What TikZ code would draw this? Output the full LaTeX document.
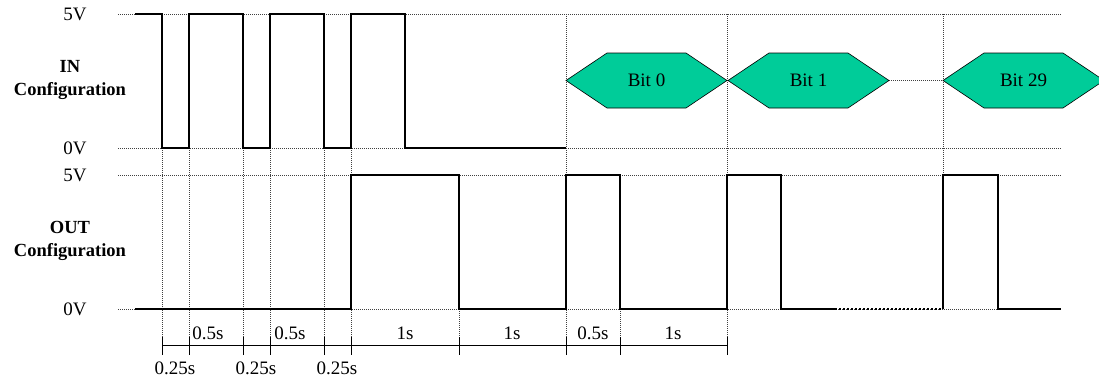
\documentclass[tikz,border=0pt]{standalone}
\usepackage{fontspec}
\setmainfont{Liberation Serif}
\definecolor{bitfill}{RGB}{0,204,153}
\begin{document}
\begin{tikzpicture}[x=1pt,y=-1pt,
  grid/.style={dash pattern=on 1pt off 1pt, line width=0.8pt, black!75},
  wave/.style={line width=2.6pt, line join=miter},
  lbl/.style={font=\fontsize{19}{21}\selectfont, inner sep=0pt},
  hdr/.style={font=\fontsize{18.5}{23}\selectfont\bfseries, inner sep=0pt, align=center},
  bitshape/.style={fill=bitfill, draw=black, line width=0.6pt},
  bittext/.style={font=\fontsize{19}{21}\selectfont, inner sep=0pt},
  ruler/.style={line width=0.9pt, black}]
\useasboundingbox (0,0) rectangle (1099,380);
% horizontal grid
\foreach \yy in {14,148,175,309} \draw[grid] (118,\yy) -- (1062,\yy);
% vertical grid
\foreach \xx in {162,189,243,270,324,351} \draw[grid] (\xx,148) -- (\xx,345);
\foreach \xx in {459,620} \draw[grid] (\xx,309) -- (\xx,345);
\foreach \xx in {566,727} \draw[grid] (\xx,14) -- (\xx,345);
\draw[grid] (943,14) -- (943,175);
% labels
\node[lbl] (v5a) at (75,14) {5V};
\node[lbl] (v0a) at (75,148) {0V};
\node[lbl] (v5b) at (75,175) {5V};
\node[lbl] (v0b) at (75,309) {0V};
\node[hdr] (inl) at (70,80) {IN\\Configuration};
\node[hdr] (outl) at (70,241) {OUT\\Configuration};
% IN waveform
\draw[wave] (135,14) -| (162,148) -| (189,14) -| (243,148) -| (270,14) -| (324,148) -| (351,14) -| (405,148) -- (566,148);
% bits
\foreach \cx/\nm in {646.5/c0, 808.5/c1, 1023.5/c29} {
  \coordinate (\nm) at (\cx,80.5);
  \path[bitshape] (\nm) ++(-80.5,0) -- ++(41,-27.5) -- ++(79,0) -- ++(41,27.5) -- ++(-41,27.5) -- ++(-79,0) -- cycle;
}
\node[bittext] (bit0) at (c0) {Bit 0};
\node[bittext] (bit1) at (c1) {Bit 1};
\node[bittext] (bit29) at (c29) {Bit 29};
\coordinate (b1e) at (889,80.5);
\coordinate (b29w) at (943,80.5);
\draw[grid] (b1e) -- (b29w);
% OUT waveform
\draw[wave] (135,309) -| (351,175) -| (459,309) -| (566,175) -| (620,309) -| (727,175) -| (781,309) -- (835,309);
\draw[line width=2.6pt, dash pattern=on 2pt off 2pt] (835,309) -- (943,309);
\draw[wave] (943,309) -- (943,175) -| (998,309) -- (1061,309);
% ruler
\draw[ruler] (162,345) -- (727,345);
\foreach \xx in {162,189,243,270,324,351,459,566,620,727} \draw[ruler] (\xx,337) -- (\xx,355);
\node[lbl] (t1) at (208,333) {0.5s};
\node[lbl] (t2) at (290,333) {0.5s};
\node[lbl] (t3) at (405,333) {1s};
\node[lbl] (t4) at (512,333) {1s};
\node[lbl] (t5) at (593,333) {0.5s};
\node[lbl] (t6) at (673,333) {1s};
\node[lbl] (q1) at (175,368) {0.25s};
\node[lbl] (q2) at (256,368) {0.25s};
\node[lbl] (q3) at (337,368) {0.25s};
\end{tikzpicture}
\end{document}
